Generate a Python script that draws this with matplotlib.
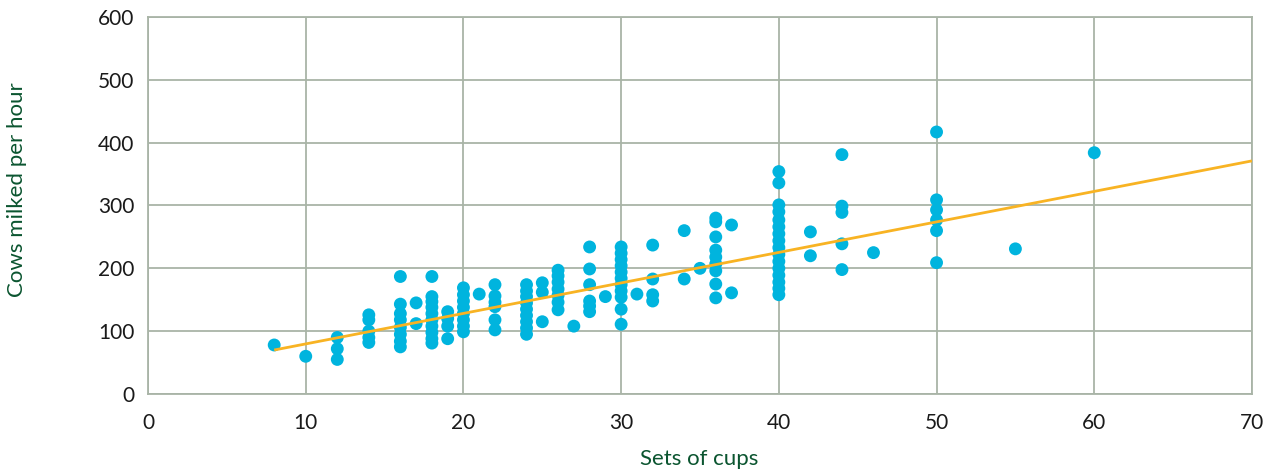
import numpy as np
import matplotlib
matplotlib.use("Agg")
import matplotlib.pyplot as plt

# Sets of milking cups in the parlour, and the cows milked per hour
cups = [
    8,
    10,
    12, 12, 12,
    14, 14, 14, 14, 14,
    16, 16, 16, 16, 16, 16, 16, 16,
    17, 17,
    18, 18, 18, 18, 18, 18, 18, 18, 18, 18,
    19, 19, 19, 19,
    20, 20, 20, 20, 20, 20, 20, 20,
    21,
    22, 22, 22, 22, 22, 22,
    24, 24, 24, 24, 24, 24, 24, 24, 24,
    25, 25, 25,
    26, 26, 26, 26, 26, 26, 26,
    27,
    28, 28, 28, 28, 28, 28,
    29,
    30, 30, 30, 30, 30, 30, 30, 30, 30, 30, 30,
    31,
    32, 32, 32, 32,
    34, 34,
    35,
    36, 36, 36, 36, 36, 36, 36, 36, 36,
    37, 37,
    40, 40, 40, 40, 40, 40, 40, 40, 40, 40, 40, 40, 40, 40, 40, 40,
    42, 42,
    44, 44, 44, 44, 44,
    46,
    50, 50, 50, 50, 50, 50,
    55,
    60,
]
cows_per_hour = [
    78,
    60,
    90, 72, 55,
    126, 118, 100, 90, 82,
    187, 143, 128, 118, 106, 95, 84, 75,
    145, 112,
    187, 155, 147, 138, 128, 118, 108, 98, 88, 81,
    131, 120, 108, 88,
    169, 158, 148, 138, 128, 118, 108, 99,
    159,
    174, 156, 146, 139, 118, 102,
    174, 164, 155, 145, 135, 125, 115, 105, 95,
    177, 162, 115,
    197, 188, 178, 167, 157, 146, 134,
    108,
    234, 199, 174, 148, 140, 131,
    155,
    234, 224, 214, 204, 194, 184, 174, 164, 154, 135, 111,
    159,
    237, 183, 158, 148,
    260, 183,
    200,
    280, 274, 250, 229, 218, 207, 196, 175, 153,
    269, 161,
    354, 336, 301, 290, 277, 266, 255, 244, 233, 222, 211, 200, 189, 178, 168, 158,
    258, 220,
    381, 299, 289, 239, 198,
    225,
    417, 309, 293, 277, 260, 209,
    231,
    384,
]

# Linear trend drawn from the first data point out to the right edge
trend_x = [8, 70]
trend_y = [70, 371]

x_ticks = [0, 10, 20, 30, 40, 50, 60, 70]
y_ticks = [0, 100, 200, 300, 400, 500, 600]

DOT = "#00B4DE"
TREND = "#F8B323"
GRID = "#A9B4A7"
TICK_TXT = "#1A1A1A"
LABEL = "#0B5530"

plt.rcParams["font.family"] = ["Lato", "DejaVu Sans"]

fig = plt.figure(figsize=(12.74, 4.71), dpi=100)
ax = fig.add_axes([0.1162, 0.1635, 0.8665, 0.8004])

ax.scatter(cups, cows_per_hour, s=86, color=DOT, edgecolors="none", zorder=3)
ax.plot(trend_x, trend_y, color=TREND, lw=2.0, zorder=4, solid_capstyle="butt")

ax.set_xlim(0, 70)
ax.set_ylim(0, 600)
ax.set_xticks(x_ticks)
ax.set_yticks(y_ticks)
ax.grid(True, color=GRID, lw=1.3, zorder=0)
ax.set_axisbelow(True)
for sp in ax.spines.values():
    sp.set_color(GRID)
    sp.set_linewidth(1.3)

ax.tick_params(axis="both", length=0, labelsize=15, labelcolor=TICK_TXT)
ax.tick_params(axis="x", pad=14)
ax.tick_params(axis="y", pad=10)

fig.text(0.5490, 0.026, "Sets of cups", ha="center", va="center",
         fontsize=16, color=LABEL)
fig.text(0.0131, 0.598, "Cows milked per hour", ha="center", va="center",
         rotation=90, fontsize=16, color=LABEL)

fig.savefig("out.png", dpi=100)
